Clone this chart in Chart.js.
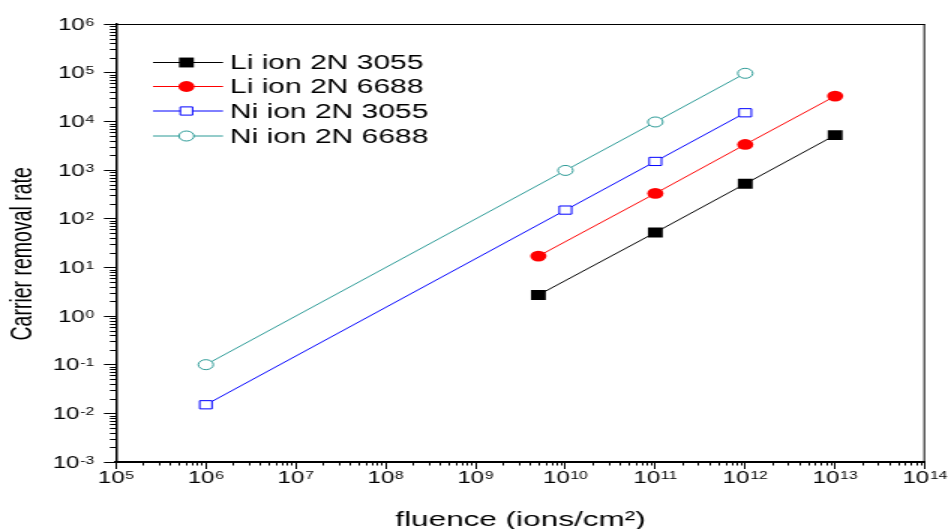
<!DOCTYPE html>
<html><head><meta charset="utf-8">
<script src="https://cdn.jsdelivr.net/npm/chart.js@4.4.1/dist/chart.umd.min.js"></script>
<style>
html,body{margin:0;padding:0;background:#fff;overflow:hidden;}
#wrap{width:948px;height:529px;position:relative;overflow:hidden;background:#fff;}
#c{position:absolute;left:0;top:0;width:632px;height:529px;transform:scaleX(1.5);transform-origin:0 0;}
</style></head><body>
<div id="wrap"><canvas id="c" width="632" height="529"></canvas></div>
<script>
// ---- data ----
const seriesNames = ['Li ion 2N 3055', 'Li ion 2N 6688', 'Ni ion 2N 3055', 'Ni ion 2N 6688'];
const fluenceLi = [5e9, 1e11, 1e12, 1e13];
const fluenceNi = [1e6, 1e10, 1e11, 1e12];
const rateLi3055 = [2.7, 52, 520, 5200];
const rateLi6688 = [17, 330, 3350, 33000];
const rateNi3055 = [0.015, 150, 1500, 15000];
const rateNi6688 = [0.1, 980, 9700, 97000];
const xMajorTicks = [1e5, 1e6, 1e7, 1e8, 1e9, 1e10, 1e11, 1e12, 1e13, 1e14];
const yMajorTicks = [1e-3, 1e-2, 1e-1, 1e0, 1e1, 1e2, 1e3, 1e4, 1e5, 1e6];
const minorMultipliers = [2, 3, 4, 5, 6, 7, 8, 9];
const xTitle = 'fluence (ions/cm\u00B2)';
const yTitle = 'Carrier removal rate';

const SUP = {'0':'\u2070','1':'\u00B9','2':'\u00B2','3':'\u00B3','4':'\u2074','5':'\u2075','6':'\u2076','7':'\u2077','8':'\u2078','9':'\u2079','-':'\u207B'};
function expOf(v) { return Math.round(Math.log10(v)); }
function powLabel(v) { return '10' + String(expOf(v)).split('').map(c => SUP[c]).join(''); }
function isMajorVal(v, majors) {
  return majors.some(m => Math.abs(Math.log10(v) - Math.log10(m)) < 1e-9);
}
function buildTicks(majors) {
  const t = [];
  majors.forEach((m, i) => {
    t.push({value: m, major: true});
    if (i < majors.length - 1) minorMultipliers.forEach(k => t.push({value: m * k, major: false}));
  });
  return t;
}
function pairs(xs, ys) { return xs.map((x, i) => ({x: x, y: ys[i]})); }

const FONT = '"Liberation Sans", Arial, sans-serif';
const teal = '#2b9a96';

const datasets = [
  {label: seriesNames[0], data: pairs(fluenceLi, rateLi3055), borderColor: '#000000', backgroundColor: '#000000',
   pointStyle: 'rect', pointRadius: 7, pointBackgroundColor: '#000000', pointBorderColor: '#000000', pointBorderWidth: 0},
  {label: seriesNames[1], data: pairs(fluenceLi, rateLi6688), borderColor: '#ff0000', backgroundColor: '#ff0000',
   pointStyle: 'circle', pointRadius: 5.4, pointBackgroundColor: '#ff0000', pointBorderColor: '#ff0000', pointBorderWidth: 0},
  {label: seriesNames[2], data: pairs(fluenceNi, rateNi3055), borderColor: '#0000ff', backgroundColor: '#ffffff',
   pointStyle: 'rect', pointRadius: 5.8, pointBackgroundColor: '#ffffff', pointBorderColor: '#0000ff', pointBorderWidth: 1},
  {label: seriesNames[3], data: pairs(fluenceNi, rateNi6688), borderColor: teal, backgroundColor: '#ffffff',
   pointStyle: 'circle', pointRadius: 5, pointBackgroundColor: '#ffffff', pointBorderColor: teal, pointBorderWidth: 1}
];
datasets.forEach(d => { d.borderWidth = 1; d.showLine = true; d.fill = false; d.tension = 0; d.pointHoverRadius = d.pointRadius; });

function drawPow(ctx, v, x, baseline, alignRight) {
  const e = String(expOf(v));
  ctx.font = '16px ' + FONT;
  const w1 = ctx.measureText('10').width;
  ctx.font = '10.5px ' + FONT;
  const w2 = ctx.measureText(e).width;
  const start = alignRight ? x - (w1 + w2 + 0.5) : x - (w1 + w2 + 0.5) / 2;
  ctx.textAlign = 'left';
  ctx.textBaseline = 'alphabetic';
  ctx.font = '16px ' + FONT;
  ctx.fillText('10', start, baseline);
  ctx.font = '10.5px ' + FONT;
  ctx.fillText(e, start + w1 + 0.5, baseline - 4.3);
}

const framePlugin = {
  id: 'frame',
  afterDraw(chart) {
    const ctx = chart.ctx, a = chart.chartArea;
    const xs = chart.scales.x, ys = chart.scales.y;
    ctx.save();
    ctx.strokeStyle = '#000';
    // top and right frame
    ctx.lineWidth = 1;
    ctx.beginPath();
    ctx.moveTo(a.left, a.top + 0.5); ctx.lineTo(a.right, a.top + 0.5);
    ctx.moveTo(a.right - 0.5, a.top); ctx.lineTo(a.right - 0.5, a.bottom);
    ctx.stroke();
    // minor ticks
    ctx.beginPath();
    xs.ticks.forEach(t => {
      if (t.major) return;
      const px = Math.round(xs.getPixelForValue(t.value)) + 0.5;
      ctx.moveTo(px, a.bottom); ctx.lineTo(px, a.bottom + 3.5);
    });
    ys.ticks.forEach(t => {
      if (t.major) return;
      const py = Math.round(ys.getPixelForValue(t.value)) + 0.5;
      ctx.moveTo(a.left - 4, py); ctx.lineTo(a.left, py);
    });
    ctx.stroke();
    // power-of-ten tick labels with raised exponents, placed by the scales
    ctx.fillStyle = '#000';
    xs.ticks.forEach(t => {
      if (!t.major) return;
      drawPow(ctx, t.value, xs.getPixelForValue(t.value), a.bottom + 21.3, false);
    });
    ys.ticks.forEach(t => {
      if (!t.major) return;
      drawPow(ctx, t.value, a.left - 14.5, ys.getPixelForValue(t.value) + 5.8, true);
    });
    // legend
    const rowsY = [62.5, 86.5, 111, 136];
    chart.data.datasets.forEach((ds, i) => {
      const y = rowsY[i];
      ctx.strokeStyle = ds.borderColor;
      ctx.lineWidth = 1;
      ctx.beginPath(); ctx.moveTo(102, y); ctx.lineTo(148.7, y); ctx.stroke();
      ctx.fillStyle = ds.pointBackgroundColor;
      ctx.strokeStyle = ds.pointBorderColor;
      ctx.lineWidth = ds.pointBorderWidth;
      Chart.helpers.drawPoint(ctx, {pointStyle: ds.pointStyle, radius: ds.pointRadius, borderWidth: ds.pointBorderWidth, rotation: 0}, 124.3, y);
      ctx.fillStyle = '#000';
      ctx.font = '20px ' + FONT;
      ctx.textBaseline = 'middle';
      ctx.textAlign = 'left';
      ctx.fillText(ds.label, 153.3, y + 1);
    });
    ctx.restore();
  }
};

new Chart(document.getElementById('c'), {
  type: 'scatter',
  data: {datasets: datasets},
  plugins: [framePlugin],
  options: {
    responsive: false,
    animation: false,
    devicePixelRatio: 1,
    layout: {padding: {left: 0, top: 24, right: 15.3, bottom: 0}},
    plugins: {legend: {display: false}, tooltip: {enabled: false}},
    scales: {
      x: {
        type: 'logarithmic', min: 1e5, max: 1e14,
        afterBuildTicks: s => { s.ticks = buildTicks(xMajorTicks); },
        afterFit: s => { s.height = 67; },
        border: {display: true, color: '#000', width: 2},
        grid: {drawOnChartArea: false, drawTicks: true, tickLength: 7,
               tickColor: c => (c.tick && c.tick.major) ? '#000' : 'rgba(0,0,0,0)', tickWidth: 1},
        ticks: {autoSkip: false, maxRotation: 0, minRotation: 0, padding: 1, color: 'rgba(0,0,0,0)',
                font: {family: FONT, size: 8},
                callback: v => isMajorVal(v, xMajorTicks) ? powLabel(v) : ''},
        title: {display: true, text: xTitle, color: '#000', font: {family: FONT, size: 21, lineHeight: 0.86}, padding: {top: 0, bottom: 0}}
      },
      y: {
        type: 'logarithmic', min: 1e-3, max: 1e6,
        afterBuildTicks: s => { s.ticks = buildTicks(yMajorTicks); },
        afterFit: s => { s.width = 77.3; },
        border: {display: true, color: '#000', width: 1.5},
        grid: {drawOnChartArea: false, drawTicks: true, tickLength: 8,
               tickColor: c => (c.tick && c.tick.major) ? '#000' : 'rgba(0,0,0,0)', tickWidth: 1},
        ticks: {autoSkip: false, padding: 6, color: 'rgba(0,0,0,0)',
                font: {family: FONT, size: 8},
                callback: v => isMajorVal(v, yMajorTicks) ? powLabel(v) : ''},
        title: {display: true, text: yTitle + '    ', color: '#000', font: {family: FONT, size: 19.5, lineHeight: 1}, padding: {top: 6, bottom: 0}}
      }
    }
  }
});
</script>
</body></html>
